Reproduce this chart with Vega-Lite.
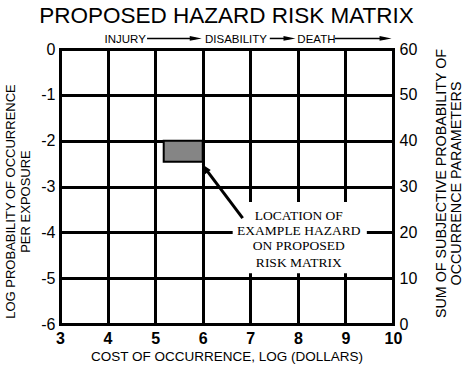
{
  "$schema": "https://vega.github.io/schema/vega-lite/v6.json",
  "width": 333,
  "height": 275,
  "autosize": {"type": "none"},
  "padding": {"left": 60, "top": 49, "right": 71, "bottom": 43},
  "background": "white",
  "config": {
    "view": {"stroke": null},
    "font": "Liberation Sans",
    "axis": {
      "labelFont": "Liberation Sans",
      "titleFont": "Liberation Sans",
      "labelColor": "black",
      "titleColor": "black",
      "titleFontWeight": "normal",
      "domainColor": "black",
      "domainWidth": 3,
      "domainCap": "square",
      "ticks": false,
      "gridColor": "black",
      "gridWidth": 3,
      "gridOpacity": 1,
      "labelFontSize": 16,
      "labelFlush": false,
      "labelOverlap": false,
      "labelExpr": "datum.value + ''"
    }
  },
  "title": {
    "text": "PROPOSED HAZARD RISK MATRIX",
    "font": "Liberation Sans",
    "fontSize": 22.5,
    "fontWeight": "normal",
    "color": "black",
    "anchor": "middle",
    "frame": "group",
    "baseline": "alphabetic",
    "offset": -11
  },
  "datasets": {
    "box": [{"x": 6.63, "x2": 9.45, "y": -3.34, "y2": -4.89}],
    "hazard": [{"x": 5.18, "x2": 6.0, "y": -2.0, "y2": -2.46}],
    "pointer": [{"x": 6.84, "y": -3.69, "x2": 6.06, "y2": -2.615, "xt": 5.98, "yt": -2.51}],
    "note": [
      {"x": 8.02, "y": -3.73, "t": "LOCATION OF"},
      {"x": 8.02, "y": -4.06, "t": "EXAMPLE HAZARD"},
      {"x": 8.02, "y": -4.39, "t": "ON PROPOSED"},
      {"x": 8.02, "y": -4.76, "t": "RISK MATRIX"}
    ],
    "stages": [
      {"x": 4.37, "t": "INJURY"},
      {"x": 6.70, "t": "DISABILITY"},
      {"x": 8.39, "t": "DEATH"}
    ],
    "links": [
      {"x": 4.83, "x2": 5.85, "xt": 5.98},
      {"x": 7.41, "x2": 7.82, "xt": 7.95},
      {"x": 8.78, "x2": 9.84, "xt": 9.97}
    ],
    "right": [{"s": 0}]
  },
  "layer": [
    {
      "layer": [
        {
          "data": {"name": "box"},
          "mark": {"type": "rect", "fill": "white", "strokeWidth": 0},
          "encoding": {
            "x": {
              "field": "x", "type": "quantitative",
              "scale": {"domain": [3, 10], "nice": false, "zero": false},
              "axis": {
                "values": [3, 4, 5, 6, 7, 8, 9, 10],
                "grid": true,
                "labelPadding": 6,
                "labelFontWeight": "bold",
                "title": "COST OF OCCURRENCE, LOG (DOLLARS)",
                "titleFontSize": 13.5,
                "titleBaseline": "alphabetic",
                "titleY": 36
              }
            },
            "x2": {"field": "x2"},
            "y": {
              "field": "y", "type": "quantitative",
              "scale": {"domain": [-6, 0], "nice": false, "zero": false},
              "axis": {
                "orient": "left",
                "values": [-6, -5, -4, -3, -2, -1, 0],
                "grid": true,
                "labelPadding": 5,
                "title": ["LOG PROBABILITY OF OCCURRENCE", "PER EXPOSURE"],
                "titleFontSize": 13,
                "titleAngle": -90,
                "titleAlign": "center",
                "titleBaseline": "alphabetic",
                "titleLineHeight": 15,
                "titleX": -45.5,
                "titleY": 152
              }
            },
            "y2": {"field": "y2"}
          }
        },
        {
          "data": {"name": "hazard"},
          "mark": {"type": "rect", "fill": "#858585", "stroke": "black", "strokeWidth": 2},
          "encoding": {
            "x": {"field": "x", "type": "quantitative"},
            "x2": {"field": "x2"},
            "y": {"field": "y", "type": "quantitative"},
            "y2": {"field": "y2"}
          }
        },
        {
          "data": {"name": "pointer"},
          "mark": {"type": "rule", "color": "black", "strokeWidth": 3},
          "encoding": {
            "x": {"field": "x", "type": "quantitative"},
            "x2": {"field": "x2"},
            "y": {"field": "y", "type": "quantitative"},
            "y2": {"field": "y2"}
          }
        },
        {
          "data": {"name": "pointer"},
          "mark": {"type": "point", "shape": "M0,0L-3.4,-1.2L-3.4,1.2Z", "size": 36, "filled": true, "color": "black", "opacity": 1, "angle": 233, "strokeWidth": 0},
          "encoding": {
            "x": {"field": "xt", "type": "quantitative"},
            "y": {"field": "yt", "type": "quantitative"}
          }
        },
        {
          "data": {"name": "note"},
          "mark": {"type": "text", "font": "Liberation Serif", "fontSize": 13.5, "align": "center", "baseline": "alphabetic", "color": "black"},
          "encoding": {
            "x": {"field": "x", "type": "quantitative"},
            "y": {"field": "y", "type": "quantitative"},
            "text": {"field": "t"}
          }
        },
        {
          "data": {"name": "stages"},
          "mark": {"type": "text", "font": "Liberation Sans", "fontSize": 11.5, "align": "center", "baseline": "alphabetic", "color": "black"},
          "encoding": {
            "x": {"field": "x", "type": "quantitative"},
            "y": {"datum": 0.13, "type": "quantitative"},
            "text": {"field": "t"}
          }
        },
        {
          "data": {"name": "links"},
          "mark": {"type": "rule", "color": "black", "strokeWidth": 1.5},
          "encoding": {
            "x": {"field": "x", "type": "quantitative"},
            "x2": {"field": "x2"},
            "y": {"datum": 0.23, "type": "quantitative"}
          }
        },
        {
          "data": {"name": "links"},
          "mark": {"type": "point", "shape": "M0,0L-6,-1.2L-6,1.2Z", "size": 16, "filled": true, "color": "black", "opacity": 1, "strokeWidth": 0},
          "encoding": {
            "x": {"field": "xt", "type": "quantitative"},
            "y": {"datum": 0.23, "type": "quantitative"}
          }
        }
      ]
    },
    {
      "data": {"name": "right"},
      "mark": {"type": "point", "opacity": 0},
      "encoding": {
        "y": {
          "field": "s", "type": "quantitative",
          "scale": {"domain": [0, 60], "nice": false, "zero": false},
          "axis": {
            "orient": "right",
            "values": [0, 10, 20, 30, 40, 50, 60],
            "grid": false,
            "labelPadding": 6,
            "title": ["SUM OF SUBJECTIVE PROBABILITY OF", "OCCURRENCE PARAMETERS"],
            "titleFontSize": 14.3,
            "titleAngle": -90,
            "titleAlign": "center",
            "titleBaseline": "alphabetic",
            "titleLineHeight": 15,
            "titleX": 52,
            "titleY": 134
          }
        }
      }
    }
  ],
  "resolve": {"scale": {"y": "independent"}}
}
